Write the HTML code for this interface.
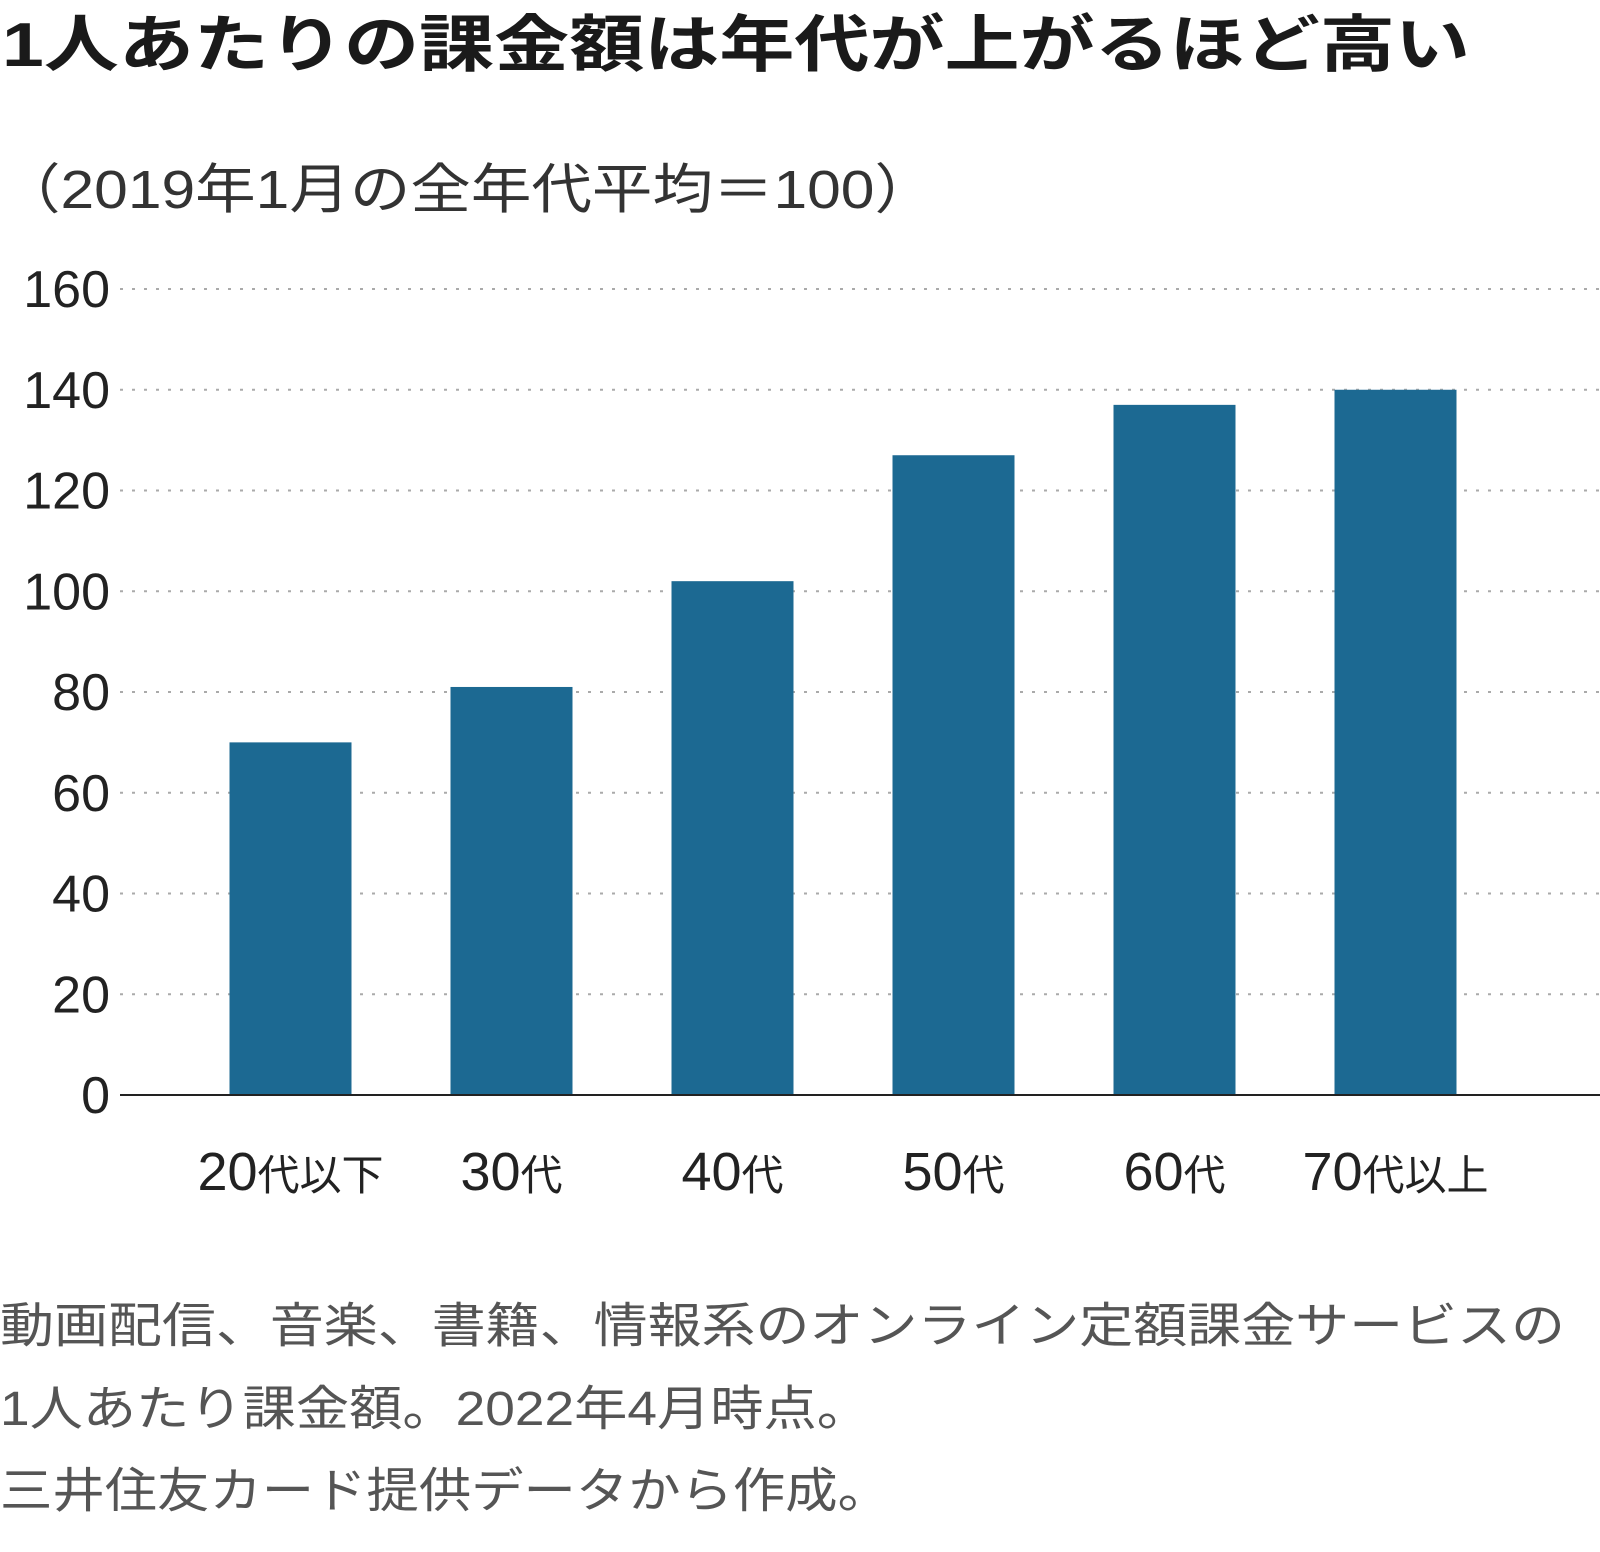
<!DOCTYPE html>
<html><head><meta charset="utf-8"><style>
html,body{margin:0;padding:0;background:#fff;}
svg text{font-family:"Liberation Sans","Noto Sans CJK JP",sans-serif;}
</style></head><body>
<svg id="chart" width="1600" height="1547" viewBox="0 0 1600 1547" xmlns="http://www.w3.org/2000/svg">
<text x="2" y="66" font-size="62" font-weight="bold" fill="#1a1a1a" textLength="1468" lengthAdjust="spacingAndGlyphs">1人あたりの課金額は年代が上がるほど高い</text>
<text x="0" y="208" font-size="54" fill="#333" textLength="935" lengthAdjust="spacingAndGlyphs">（2019年1月の全年代平均＝100）</text>
<g id="grid"></g>
<g id="yticks"></g>
<g id="bars"></g>
<g id="xlabels"></g>
<line x1="120" x2="1600" y1="1095" y2="1095" stroke="#222" stroke-width="2"/>
<g font-size="48" fill="#555">
<text x="0" y="1342" textLength="1565" lengthAdjust="spacingAndGlyphs">動画配信、音楽、書籍、情報系のオンライン定額課金サービスの</text>
<text x="0" y="1425" textLength="870" lengthAdjust="spacingAndGlyphs">1人あたり課金額。2022年4月時点。</text>
<text x="0" y="1507" textLength="890" lengthAdjust="spacingAndGlyphs">三井住友カード提供データから作成。</text>
</g>
</svg>
<script>
const categories=["20代以下","30代","40代","50代","60代","70代以上"];
const catNums=["20","30","40","50","60","70"];
const catSuffix=["代以下","代","代","代","代","代以上"];
const values=[70,81,102,127,137,140];
const yTicks=[0,20,40,60,80,100,120,140,160];
const NS="http://www.w3.org/2000/svg";
const y0=1095,y1=289,yMax=160;
const y=v=>y0-(v/yMax)*(y0-y1);
const bandL=180,bandW=221,barW=122;
const xc=i=>bandL+bandW*(i+0.5);
const grid=document.getElementById('grid'),yt=document.getElementById('yticks'),bars=document.getElementById('bars'),xl=document.getElementById('xlabels');
yTicks.forEach(t=>{
  if(t>0){const l=document.createElementNS(NS,'line');
  
  
  l.setAttribute('x1',120);l.setAttribute('x2',1600);l.setAttribute('y1',y(t));l.setAttribute('y2',y(t));
  l.setAttribute('stroke','#aaa');l.setAttribute('stroke-width','2');l.setAttribute('stroke-dasharray','3 9');grid.appendChild(l);}
  const tx=document.createElementNS(NS,'text');
  
  
  tx.setAttribute('x',110);tx.setAttribute('y',y(t)+18);tx.setAttribute('text-anchor','end');tx.setAttribute('font-size','52');tx.setAttribute('fill','#222');
  tx.textContent=t;yt.appendChild(tx);
});
values.forEach((v,i)=>{
  const r=document.createElementNS(NS,'rect');
  
  
  r.setAttribute('x',xc(i)-barW/2);r.setAttribute('y',y(v));r.setAttribute('width',barW);r.setAttribute('height',y0-y(v));r.setAttribute('fill','#1c6992');
  bars.appendChild(r);
  const tx=document.createElementNS(NS,'text');
  
  
  tx.setAttribute('x',xc(i));tx.setAttribute('y',1190);tx.setAttribute('text-anchor','middle');tx.setAttribute('fill','#222');
  const a=document.createElementNS(NS,'tspan');a.setAttribute('font-size','54');a.textContent=catNums[i];
  const b=document.createElementNS(NS,'tspan');b.setAttribute('font-size','42');b.textContent=catSuffix[i];
  tx.appendChild(a);tx.appendChild(b);xl.appendChild(tx);
});
</script>
</body></html>
